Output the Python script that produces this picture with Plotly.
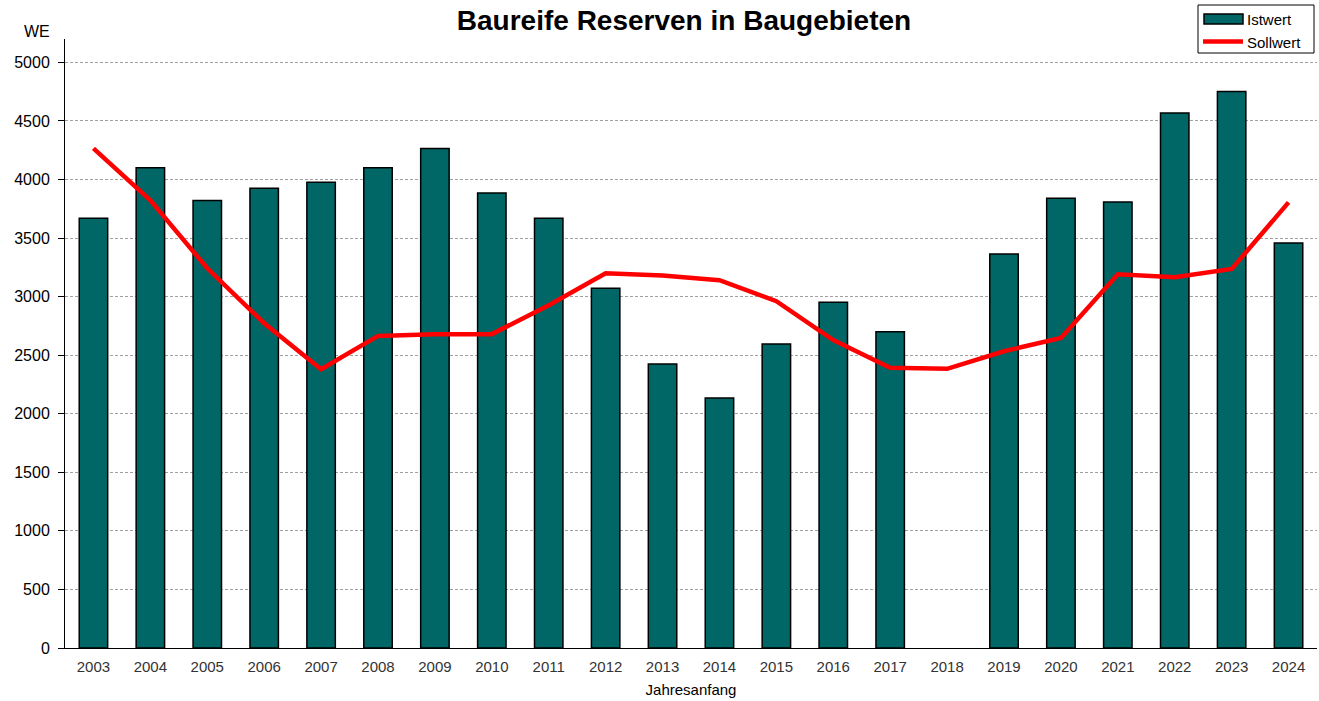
import plotly.graph_objects as go

years = [str(y) for y in range(2003, 2025)]
istwert = [3670, 4100, 3820, 3925, 3976, 4100, 4266, 3885, 3670, 3072, 2425, 2135,
           2596, 2952, 2700, None, 3365, 3840, 3808, 4568, 4752, 3458]
sollwert = [4266, 3823, 3242, 2773, 2381, 2665, 2680, 2680, 2927, 3200, 3180, 3140,
            2961, 2630, 2392, 2384, 2534, 2648, 3191, 3166, 3236, 3805]

BAR_COLOR = "#006666"
LINE_COLOR = "#ff0000"

W, H = 1319, 701
ML, MR, MT, MB = 65, 2, 39, 53
PW, PH = W - ML - MR, H - MT - MB


def px(xs):
    """screen x pixel -> paper coordinate"""
    return (xs - ML) / PW


def py(ys):
    """screen y pixel -> paper coordinate"""
    return (H - MB - ys) / PH


fig = go.Figure()
fig.add_trace(go.Bar(
    x=years, y=istwert, name="Istwert",
    marker=dict(color=BAR_COLOR, line=dict(color="black", width=1.5)),
    width=0.5, showlegend=False,
))
fig.add_trace(go.Scatter(
    x=years, y=sollwert, name="Sollwert", mode="lines",
    line=dict(color=LINE_COLOR, width=4.5), showlegend=False,
))

# custom legend (box, swatches, labels)
shapes = [
    dict(type="rect", xref="paper", yref="paper", x0=px(1198), x1=px(1314),
         y0=py(5), y1=py(53), line=dict(color="black", width=1), fillcolor="white", layer="above"),
    dict(type="rect", xref="paper", yref="paper", x0=px(1204), x1=px(1243),
         y0=py(14), y1=py(24), line=dict(color="black", width=1.5), fillcolor=BAR_COLOR, layer="above"),
    dict(type="line", xref="paper", yref="paper", x0=px(1203), x1=px(1243),
         y0=py(41.5), y1=py(41.5), line=dict(color=LINE_COLOR, width=4.5), layer="above"),
]
annotations = [
    dict(text="Istwert", xref="paper", yref="paper", x=px(1245), y=py(19),
         xanchor="left", yanchor="middle", showarrow=False, font=dict(size=15)),
    dict(text="Sollwert", xref="paper", yref="paper", x=px(1245), y=py(42),
         xanchor="left", yanchor="middle", showarrow=False, font=dict(size=15)),
    dict(text="WE", xref="paper", yref="paper", x=px(52), y=py(31),
         xanchor="right", yanchor="middle", showarrow=False, font=dict(size=16)),
]

fig.update_layout(
    width=W, height=H,
    margin=dict(l=ML, r=MR, t=MT, b=MB, autoexpand=False),
    paper_bgcolor="white", plot_bgcolor="white",
    font=dict(family="Liberation Sans, Arial, sans-serif", size=15, color="black"),
    title=dict(text="<b>Baureife Reserven in Baugebieten</b>", x=684 / W, xanchor="center",
               y=1 - 20 / H, yanchor="middle", font=dict(size=28, color="black")),
    showlegend=False,
    bargap=0.5,
    shapes=shapes,
    annotations=annotations,
)
fig.update_xaxes(
    showline=True, linecolor="black", linewidth=1, ticks="", showgrid=False,
    title=dict(text="Jahresanfang", font=dict(size=15), standoff=10),
    tickfont=dict(size=15, color="#333333"), ticklabelstandoff=5,
)
fig.update_yaxes(
    range=[0, 5200], dtick=500, tick0=0, showline=True, linecolor="black", linewidth=1,
    ticks="outside", ticklen=6, tickcolor="black",
    showgrid=True, gridcolor="#a0a0a0", griddash="3px,2px", gridwidth=1,
    zeroline=False, tickfont=dict(size=16), ticklabelstandoff=5,
)

fig.write_html(
    "out.html",
    config={"displayModeBar": False},
    post_script="document.body.style.margin='0';document.body.style.padding='0';",
)
